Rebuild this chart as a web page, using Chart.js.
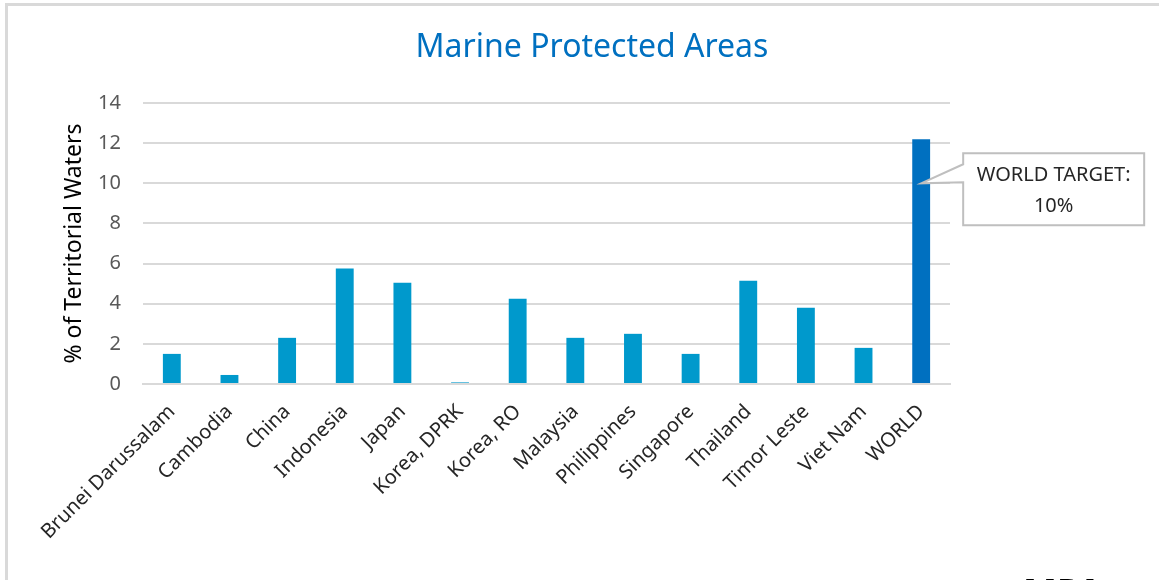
<!DOCTYPE html>
<html>
<head>
<meta charset="utf-8">
<title>Marine Protected Areas</title>
<script src="https://cdn.jsdelivr.net/npm/chart.js@4/dist/chart.umd.min.js"></script>
<style>
    html, body { margin: 0; padding: 0; background: #ffffff; overflow: hidden; }
    #wrap { position: relative; width: 1159px; height: 580px; }
</style>
</head>
<body>
<div id="wrap"><canvas id="mpaChart"></canvas></div>
<script>
const categories = ['Brunei Darussalam', 'Cambodia', 'China', 'Indonesia', 'Japan', 'Korea, DPRK',
    'Korea, RO', 'Malaysia', 'Philippines', 'Singapore', 'Thailand', 'Timor Leste', 'Viet Nam', 'WORLD'];
const coverage = [1.5, 0.45, 2.3, 5.75, 5.05, 0.08, 4.25, 2.3, 2.5, 1.5, 5.15, 3.8, 1.8, 12.2];
const yMin = 0;
const yMax = 14;
const yStep = 2;
const worldTarget = 10;
const chartTitle = 'Marine Protected Areas';
const calloutLines = ['WORLD TARGET:', '10%'];

const countryColor = '#0099cc';
const worldColor = '#0070c0';
const font = '"Noto Sans", "Open Sans", sans-serif';

// frame lines, title and the clipped heading at the bottom edge
const framePlugin = {
    id: 'frame',
    beforeDraw(chart) {
        const ctx = chart.ctx;
        ctx.save();
        ctx.fillStyle = '#d9d9d9';
        ctx.fillRect(5, 3, 1154, 3);
        ctx.fillRect(5, 3, 3, 577);
        ctx.fillStyle = '#0070c0';
        ctx.font = '32px ' + font;
        ctx.textAlign = 'center';
        ctx.textBaseline = 'middle';
        ctx.fillText(chartTitle, 592, 48);
        ctx.restore();
    },
    afterDraw(chart) {
        const ctx = chart.ctx;
        ctx.save();
        ctx.fillStyle = '#000000';
        ctx.font = 'bold 36px ' + font;
        ctx.textBaseline = 'alphabetic';
        ctx.fillText('MPA', 1023, 605);
        ctx.restore();
    }
};

// callout box pointing at the WORLD bar
const calloutPlugin = {
    id: 'callout',
    afterDatasetsDraw(chart) {
        const ctx = chart.ctx;
        const x = chart.scales.x;
        const y = chart.scales.y;
        const tipX = x.getPixelForValue(categories.length - 1);
        const tipY = y.getPixelForValue(worldTarget);
        const left = tipX + 42;
        const top = tipY - 30;
        const w = 181;
        const h = 72;
        ctx.save();
        ctx.beginPath();
        ctx.moveTo(left, top);
        ctx.lineTo(left + w, top);
        ctx.lineTo(left + w, top + h);
        ctx.lineTo(left, top + h);
        ctx.lineTo(left, tipY - 1);
        ctx.lineTo(tipX, tipY);
        ctx.lineTo(left, tipY - 19);
        ctx.closePath();
        ctx.fillStyle = '#ffffff';
        ctx.fill();
        ctx.lineWidth = 2;
        ctx.strokeStyle = '#bfbfbf';
        ctx.stroke();
        ctx.fillStyle = '#262626';
        ctx.font = '20px ' + font;
        ctx.textAlign = 'center';
        ctx.textBaseline = 'middle';
        ctx.fillText(calloutLines[0], left + w / 2, top + 22);
        ctx.fillText(calloutLines[1], left + w / 2, top + 53);
        ctx.restore();
    }
};

new Chart(document.getElementById('mpaChart').getContext('2d'), {
    type: 'bar',
    data: {
        labels: categories,
        datasets: [{
            data: coverage,
            backgroundColor: categories.map(c => c === 'WORLD' ? worldColor : countryColor),
            barPercentage: 0.31,
            categoryPercentage: 1.0,
            borderWidth: 0
        }]
    },
    options: {
        responsive: true,
        maintainAspectRatio: false,
        animation: false,
        layout: {
            padding: { left: 0, right: 209, top: 103, bottom: 0 }
        },
        plugins: {
            legend: { display: false },
            tooltip: { enabled: false },
            title: { display: false }
        },
        scales: {
            x: {
                grid: { display: false, drawTicks: false },
                border: { display: true, color: '#d9d9d9', width: 2 },
                ticks: {
                    color: '#262626',
                    font: { family: font, size: 20 },
                    minRotation: 45,
                    maxRotation: 45,
                    autoSkip: false,
                    padding: 16
                },
                afterFit(scale) { scale.height = 196; }
            },
            y: {
                min: yMin,
                max: yMax,
                ticks: {
                    stepSize: yStep,
                    color: '#595959',
                    font: { family: font, size: 20 },
                    padding: 22
                },
                grid: { color: '#d9d9d9', lineWidth: 2, drawTicks: false },
                border: { display: false },
                title: {
                    display: true,
                    text: '% of Territorial Waters',
                    color: '#000000',
                    font: { family: font, size: 23 },
                    padding: { top: 61, bottom: 0 }
                },
                afterFit(scale) { scale.width = 143; }
            }
        }
    },
    plugins: [framePlugin, calloutPlugin]
});
</script>
</body>
</html>
